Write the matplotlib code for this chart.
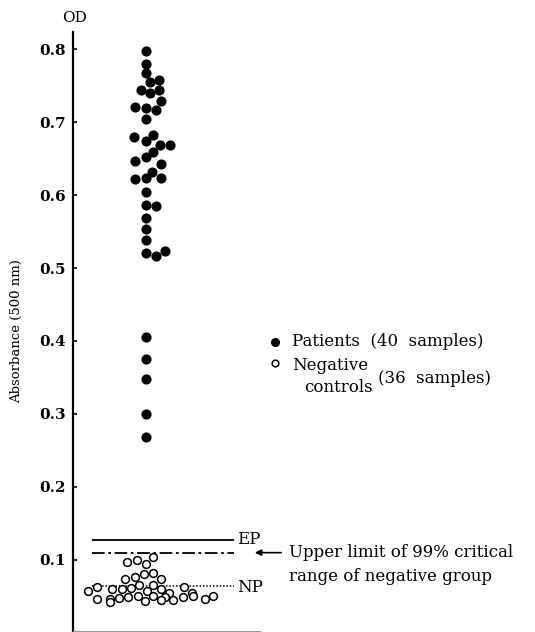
import matplotlib
matplotlib.use("Agg")
import matplotlib.pyplot as plt

# patients: absorbance and horizontal jitter (column units)
patient_od = [0.797, 0.780, 0.767, 0.755, 0.758, 0.744, 0.740, 0.744, 0.729,
              0.721, 0.719, 0.716, 0.704, 0.679, 0.674, 0.682, 0.669, 0.669,
              0.659, 0.652, 0.647, 0.643, 0.632, 0.622, 0.623, 0.623, 0.604,
              0.586, 0.585, 0.568, 0.554, 0.539, 0.521, 0.517, 0.523,
              0.405, 0.376, 0.348, 0.300, 0.268]
patient_x = [-1, -1, -1, 3, 12, -6, 3, 12, 14, -12, -1, 9, -1, -13, -1, 6,
             13, 23, 6, -1, -12, 14, 5, -12, -1, 14, -1, -1, 9, -1, -1, -1,
             -1, 9, 18, -1, -1, -1, -1, -1]

# negative controls
control_od = [0.097, 0.100, 0.095, 0.104, 0.081, 0.082, 0.074, 0.076, 0.074,
              0.063, 0.060, 0.060, 0.062, 0.066, 0.066, 0.060, 0.063,
              0.057, 0.057, 0.055, 0.055,
              0.046, 0.047, 0.048, 0.049, 0.051, 0.051, 0.049, 0.049, 0.050,
              0.046, 0.050, 0.042, 0.044, 0.045, 0.045]
control_x = [-20, -10, -1, 6, -3, 6, -22, -12, 14,
             -50, -35, -25, -16, -8, 6, 14, 37,
             -59, 0, 22, 45,
             -50, -37, -28, -19, -9, 6, 18, 36, 46,
             58, 66, -37, -2, 14, 26]

ep_value = 0.128
upper_limit = 0.110
np_value = 0.064
y_ticks = [0.1, 0.2, 0.3, 0.4, 0.5, 0.6, 0.7, 0.8]


def main():
    plt.rcParams["font.family"] = ["DejaVu Serif"]
    fig = plt.figure(figsize=(5.35, 6.32), dpi=100)
    ax = fig.add_axes([73 / 535, 0.0016, 1 - 73 / 535, 0.9482])

    ax.plot(patient_x, patient_od, "o", color="black", ms=6.3, mec="black")
    ax.plot(control_x, control_od, "o", mfc="white", mec="black",
            ms=5.6, mew=1.1, zorder=3)

    ax.hlines(ep_value, -55, 87, color="black", lw=1.3)
    ax.hlines(upper_limit, -55, 87, color="black", lw=1.3,
              linestyles=(0, (7, 2, 1.5, 2)))
    ax.hlines(np_value, -55, 87, color="black", lw=1.1,
              linestyles=(0, (1, 1.2)), zorder=2)

    ax.text(90, ep_value, "EP", va="center", ha="left", fontsize=12)
    ax.text(90, np_value - 0.002, "NP", va="center", ha="left", fontsize=12)
    ax.annotate("", xy=(105, upper_limit), xytext=(137, upper_limit),
                arrowprops=dict(arrowstyle="-|>", color="black", lw=1.2,
                                mutation_scale=9))
    ax.text(142, upper_limit, "Upper limit of 99% critical",
            va="center", ha="left", fontsize=12)
    ax.text(142, 0.077, "range of negative group",
            va="center", ha="left", fontsize=12)

    # legend drawn by hand
    ax.plot([128], [0.399], "o", color="black", ms=5.5)
    ax.text(145, 0.399, "Patients  (40  samples)", va="center", ha="left",
            fontsize=12)
    ax.plot([128], [0.370], "o", mfc="white", mec="black", ms=4.8, mew=1.1)
    ax.text(145, 0.367, "Negative", va="center", ha="left", fontsize=12)
    ax.text(157, 0.336, "controls", va="center", ha="left", fontsize=12)
    ax.text(231, 0.349, "(36  samples)", va="center", ha="left",
            fontsize=12)

    ax.set_xlim(-74, 388)
    ax.set_ylim(0.0027, 0.8237)
    ax.set_yticks(y_ticks)
    ax.set_yticklabels([f"{t:.1f}" for t in y_ticks], fontweight="bold")
    ax.set_xticks([])
    ax.tick_params(axis="y", direction="in", length=3, width=1.2, pad=5,
                   labelsize=11)
    ax.spines["left"].set_linewidth(1.6)
    ax.spines["right"].set_visible(False)
    ax.spines["top"].set_visible(False)
    ax.spines["bottom"].set_bounds(-74, 113)
    ax.spines["bottom"].set_color("#999999")

    ax.set_ylabel("Absorbance (500 nm)", fontsize=9.5, labelpad=12)
    fig.text(75 / 535, 1 - 18 / 632, "OD", ha="center", va="center",
             fontsize=11)

    fig.savefig("out.png", dpi=100)
    plt.close(fig)


if __name__ == "__main__":
    main()
